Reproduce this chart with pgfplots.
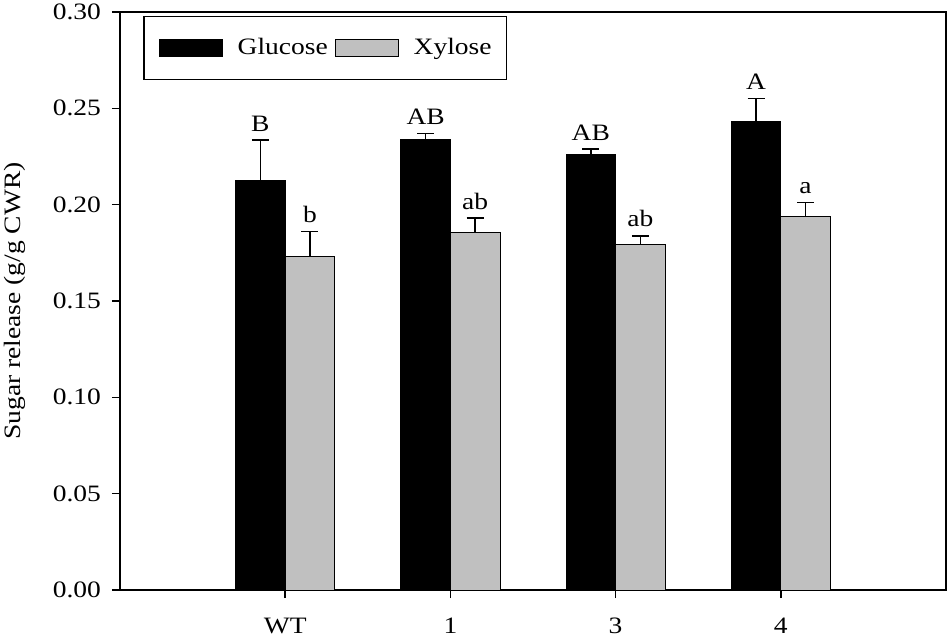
\documentclass[border=0pt]{standalone}
\usepackage{fontspec}
\setmainfont{Liberation Serif}[FakeStretch=1.17]
\usepackage{pgfplots}
\usepackage{pgfplotstable}
\pgfplotsset{compat=1.18}
\definecolor{xgray}{RGB}{192,192,192}
\pgfplotstableread{
x g ge xy xe
0 0.2125 0.0211 0.1730 0.0130
1 0.2338 0.0031 0.1855 0.0075
2 0.2262 0.0026 0.1791 0.0047
3 0.2431 0.0120 0.1938 0.0073
}\sugar
\begin{document}
\fontsize{23.5pt}{28pt}\selectfont
\begin{tikzpicture}
\begin{axis}[
  scale only axis, width=826pt, height=578pt,
  xmin=-1, xmax=4, ymin=0, ymax=0.30,
  xtick={0,1,2,3}, xticklabels={WT,1,3,4},
  ytick={0,0.05,0.1,0.15,0.2,0.25,0.3},
  yticklabel style={xshift=-3pt, /pgf/number format/.cd, fixed, fixed zerofill, precision=2},
  xticklabel style={yshift=-12pt},
  /pgf/number format/assume math mode=true,
  xtick pos=lower, ytick pos=left,
  tick align=outside, major tick length=8pt,
  axis line style={line width=1.4pt},
  every tick/.style={line width=1.4pt, black},
  ylabel={Sugar release (g/g CWR)},
  ylabel style={at={(axis description cs:0,0.5)}, anchor=center, yshift=105pt},
  legend columns=2,
  legend style={at={(axis description cs:0.028,0.993)}, anchor=north west,
    draw=black, line width=1.4pt, inner xsep=15pt, inner ysep=21.5pt,
    nodes={inner sep=0pt},
    /tikz/every even column/.append style={column sep=7pt}},
  legend image code/.code={\draw[#1, line width=0.9pt] (0pt,-8.5pt) rectangle (63pt,8.5pt); \path (78pt,0pt);},
  every node near coord/.append style={anchor=south, inner sep=0pt, yshift=8.5pt, black},
]
\addplot[ybar, bar width=0.3, bar shift=0pt, fill=black, draw=black, line width=0.9pt,
  error bars/.cd, y dir=plus, y explicit,
  error bar style={line width=1.4pt, black},
  error mark options={rotate=90, mark size=8.5pt, line width=1.4pt, black}]
  table[x expr=\thisrow{x}-0.15, y=g, y error=ge]{\sugar};
\addlegendentry{Glucose}
\addplot[ybar, bar width=0.3, bar shift=0pt, fill=xgray, draw=black, line width=0.9pt,
  error bars/.cd, y dir=plus, y explicit,
  error bar style={line width=1.4pt, black},
  error mark options={rotate=90, mark size=8.5pt, line width=1.4pt, black}]
  table[x expr=\thisrow{x}+0.15, y=xy, y error=xe]{\sugar};
\addlegendentry{Xylose}
\addplot[draw=none, mark=none, forget plot, nodes near coords, point meta=explicit symbolic]
  coordinates {(-0.15,0.2336)[B] (0.15,0.1860)[b] (0.85,0.2369)[AB] (1.15,0.1930)[ab]
               (1.85,0.2288)[AB] (2.15,0.1838)[ab] (2.85,0.2551)[A] (3.15,0.2011)[a]};
\end{axis}
\pgfresetboundingbox
\path (-120pt,-51pt) rectangle (830pt,590pt);
\end{tikzpicture}
\end{document}
